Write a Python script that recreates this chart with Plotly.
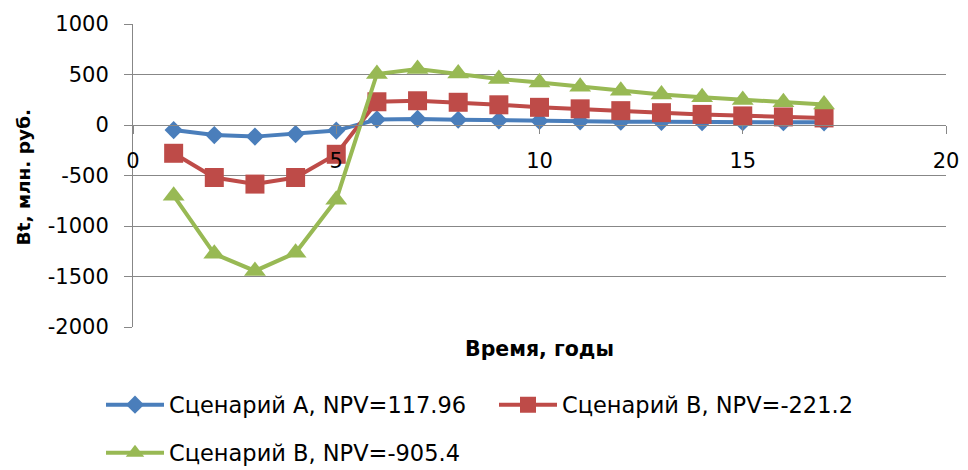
import plotly.graph_objects as go

years = list(range(1, 18))
scen_a = [-50, -100, -115, -90, -55, 55, 60, 52, 45, 40, 36, 33, 31, 29, 28, 27, 26]
scen_b = [-280, -520, -585, -520, -290, 230, 240, 225, 200, 175, 160, 142, 122, 105, 90, 80, 70]
scen_c = [-700, -1275, -1445, -1265, -740, 505, 555, 510, 455, 420, 378, 340, 302, 275, 248, 225, 202]

names = ["Сценарий А, NPV=117.96", "Сценарий В, NPV=-221.2", "Сценарий В, NPV=-905.4"]
y_tickvals = [1000, 500, 0, -500, -1000, -1500, -2000]
y_ticktext = ["1000", "500", "0", "-500", "-1000", "-1500", "-2000"]
x_tickvals = [0, 5, 10, 15, 20]

colors = ["#4A7EBB", "#BE4B48", "#98B954"]
symbols = ["diamond", "square", "triangle-up"]
sizes = [14, 19, 19]
legends = ["legend", "legend", "legend2"]
series = [scen_a, scen_b, scen_c]

FONT = "DejaVu Sans"
GRID = "#878787"

# the page body adds an 8px offset, so the figure is 8px smaller and margins shifted
W, H = 960, 462
OFF = 8

fig = go.Figure()
for s, n, c, sym, sz, lg in zip(series, names, colors, symbols, sizes, legends):
    fig.add_trace(go.Scatter(
        x=years, y=s, name=n, mode="lines+markers",
        line=dict(color=c, width=4),
        marker=dict(symbol=sym, size=sz, color=c),
        legend=lg,
    ))

fig.update_layout(
    width=W, height=H,
    margin=dict(l=133 - OFF, r=W - (946 - OFF), t=24 - OFF, b=H - (327 - OFF)),
    paper_bgcolor="white", plot_bgcolor="white",
    font=dict(family=FONT, size=21, color="#000000"),
    xaxis=dict(
        range=[0, 20], tickvals=x_tickvals,
        showgrid=False, zeroline=False,
        showline=True, linecolor=GRID, linewidth=1,
        ticks="outside", ticklen=8, tickcolor=GRID,
        anchor="free", position=2/3,
        ticklabelstandoff=9, automargin=False,
        tickfont=dict(size=21),
    ),
    yaxis=dict(
        range=[-2000, 1000], tickvals=y_tickvals, ticktext=y_ticktext,
        showgrid=True, gridcolor=GRID, gridwidth=1,
        zeroline=False,
        showline=True, linecolor=GRID, linewidth=1,
        ticks="outside", ticklen=8, tickcolor=GRID,
        ticklabelstandoff=11, automargin=False,
        tickfont=dict(size=21),
    ),
    legend=dict(
        orientation="h", xref="container", yref="container",
        x=(101 - OFF) / W, y=(H - (405 - OFF)) / H, xanchor="left", yanchor="middle",
        font=dict(size=22.5), itemwidth=58, entrywidth=320, bgcolor="rgba(0,0,0,0)",
    ),
    legend2=dict(
        orientation="h", xref="container", yref="container",
        x=(101 - OFF) / W, y=(H - (453 - OFF)) / H, xanchor="left", yanchor="middle",
        font=dict(size=22.5), itemwidth=58, bgcolor="rgba(0,0,0,0)",
    ),
    annotations=[
        dict(
            text="<b>Время, годы</b>", x=0.5006, y=(327 - 349) / 303,
            xref="paper", yref="paper", showarrow=False,
            font=dict(size=20.5), xanchor="center", yanchor="middle",
        ),
        dict(
            text="<b>Bt, млн. руб.</b>", x=(23 - 133) / 813, y=(327 - 177.5) / 303,
            xref="paper", yref="paper", showarrow=False, textangle=-90,
            font=dict(size=18.5), xanchor="center", yanchor="middle",
        ),
    ],
)

fig.write_html("out.html")
